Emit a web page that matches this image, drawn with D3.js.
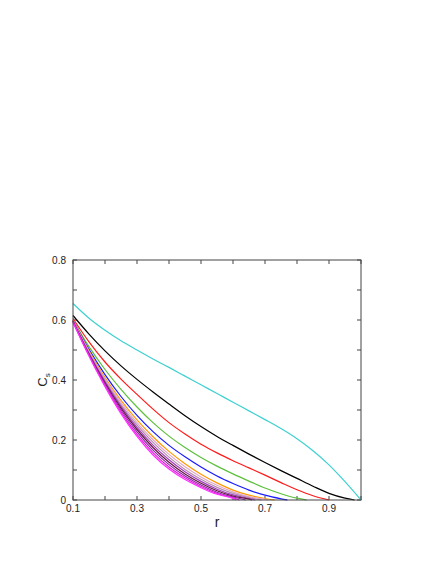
<!DOCTYPE html>
<html>
<head>
<meta charset="utf-8">
<script src="https://cdn.jsdelivr.net/npm/d3@7"></script>
<style>
  body { margin: 0; background: #fff; }
  svg { display: block; font-family: "Liberation Sans", Arial, sans-serif; }
</style>
</head>
<body>
<div id="chart"></div>
<script>
// radial grid shared by all curves
const rGrid = [0.1, 0.15, 0.2, 0.25, 0.3, 0.35, 0.4, 0.45, 0.5, 0.55, 0.6, 0.65, 0.7, 0.75, 0.8, 0.85, 0.9, 0.95];

// C_s values on rGrid (null = already at zero), plus where each curve hits zero
const cyanVals    = [0.655, 0.606, 0.566, 0.531, 0.5, 0.47, 0.442, 0.413, 0.384, 0.355, 0.326, 0.297, 0.268, 0.238, 0.204, 0.164, 0.117, 0.061];
const blackVals   = [0.615, 0.553, 0.497, 0.447, 0.402, 0.36, 0.32, 0.281, 0.245, 0.212, 0.182, 0.153, 0.125, 0.098, 0.072, 0.046, 0.022, 0.006];
const redVals     = [0.605, 0.527, 0.46, 0.403, 0.352, 0.303, 0.258, 0.22, 0.186, 0.157, 0.131, 0.107, 0.083, 0.058, 0.034, 0.014, null, null];
const greenVals   = [0.6, 0.511, 0.435, 0.369, 0.31, 0.258, 0.213, 0.175, 0.142, 0.113, 0.087, 0.063, 0.04, 0.021, 0.006, null, null, null];
const blueVals    = [0.6, 0.502, 0.418, 0.345, 0.282, 0.228, 0.182, 0.144, 0.11, 0.08, 0.055, 0.033, 0.016, 0.004, null, null, null, null];
const orangeVals  = [0.6, 0.497, 0.408, 0.332, 0.267, 0.211, 0.162, 0.121, 0.086, 0.057, 0.033, 0.016, 0.005, null, null, null, null, null];
const plumVals    = [0.599, 0.494, 0.403, 0.325, 0.258, 0.201, 0.152, 0.111, 0.077, 0.049, 0.027, 0.011, 0.002, null, null, null, null, null];
const mauveVals   = [0.598, 0.491, 0.398, 0.318, 0.25, 0.192, 0.143, 0.102, 0.069, 0.042, 0.022, 0.008, null, null, null, null, null, null];
const purpleVals  = [0.597, 0.488, 0.394, 0.312, 0.242, 0.183, 0.134, 0.094, 0.062, 0.036, 0.017, 0.005, null, null, null, null, null, null];
const maroonVals  = [0.596, 0.486, 0.39, 0.306, 0.235, 0.175, 0.126, 0.087, 0.056, 0.031, 0.013, 0.003, null, null, null, null, null, null];
const violetVals  = [0.595, 0.484, 0.386, 0.3, 0.227, 0.166, 0.118, 0.08, 0.05, 0.026, 0.01, null, null, null, null, null, null, null];
const magentaVals = [0.594, 0.482, 0.382, 0.294, 0.219, 0.158, 0.11, 0.074, 0.045, 0.022, 0.007, null, null, null, null, null, null, null];
const pinkVals    = [0.592, 0.48, 0.378, 0.288, 0.212, 0.15, 0.103, 0.068, 0.041, 0.019, 0.005, null, null, null, null, null, null, null];

const seriesVals   = [cyanVals, blackVals, redVals, greenVals, blueVals, orangeVals, plumVals, mauveVals, purpleVals, maroonVals, violetVals, magentaVals, pinkVals];
const seriesEnds   = [1.0, 0.98, 0.9, 0.83, 0.77, 0.73, 0.71, 0.69, 0.67, 0.66, 0.64, 0.62, 0.61];
const seriesColors = ["#3fd0d0", "#000000", "#ff1a1a", "#5cc03c", "#1a1aff", "#ff9a00", "#e4a6c8", "#b890b0", "#a040c0", "#6a1840", "#8a2ca8", "#e020d8", "#ff30ff"];

const xTicks = [0.1, 0.3, 0.5, 0.7, 0.9];
const xMinor = [0.2, 0.4, 0.6, 0.8, 1.0];
const yTicks = [0, 0.2, 0.4, 0.6, 0.8];
const yMinor = [0.1, 0.3, 0.5, 0.7];

const width = 436, height = 564;
const margin = { top: 260, right: 75, bottom: 64, left: 73 };

const svg = d3.select("#chart").append("svg")
  .attr("width", width)
  .attr("height", height);

const x = d3.scaleLinear().domain([0.1, 1.0]).range([margin.left, width - margin.right]);
const y = d3.scaleLinear().domain([0, 0.8]).range([height - margin.bottom, margin.top]);

const axisColor = "#444";

// inward ticks on all four sides, gnuplot style
const tickLen = 4;
const g = svg.append("g");
[...xTicks, ...xMinor].forEach(v => {
  g.append("line").attr("x1", x(v)).attr("x2", x(v))
    .attr("y1", y(0)).attr("y2", y(0) - tickLen).attr("stroke", axisColor);
  g.append("line").attr("x1", x(v)).attr("x2", x(v))
    .attr("y1", y(0.8)).attr("y2", y(0.8) + tickLen).attr("stroke", axisColor);
});
[...yTicks, ...yMinor].forEach(v => {
  g.append("line").attr("x1", x(0.1)).attr("x2", x(0.1) + tickLen)
    .attr("y1", y(v)).attr("y2", y(v)).attr("stroke", axisColor);
  g.append("line").attr("x1", x(1.0)).attr("x2", x(1.0) - tickLen)
    .attr("y1", y(v)).attr("y2", y(v)).attr("stroke", axisColor);
});

// curves
const line = d3.line()
  .x(d => x(d[0]))
  .y(d => y(d[1]))
  .curve(d3.curveMonotoneX);

seriesVals.forEach((vals, i) => {
  const pts = rGrid.map((r, j) => [r, vals[j]]).filter(d => d[1] !== null);
  pts.push([seriesEnds[i], 0]);
  svg.append("path")
    .datum(pts)
    .attr("fill", "none")
    .attr("stroke", seriesColors[i])
    .attr("stroke-width", 1.2)
    .attr("d", line);
});

// frame
svg.append("rect")
  .attr("x", x(0.1)).attr("y", y(0.8))
  .attr("width", x(1.0) - x(0.1)).attr("height", y(0) - y(0.8))
  .attr("fill", "none").attr("stroke", axisColor).attr("stroke-width", 1);

// tick labels
svg.append("g").selectAll("text").data(xTicks).join("text")
  .attr("x", d => x(d)).attr("y", y(0) + 12)
  .attr("text-anchor", "middle")
  .attr("font-size", 10).attr("fill", "#222")
  .text(d => d3.format(".1f")(d));

svg.append("g").selectAll("text").data(yTicks).join("text")
  .attr("x", x(0.1) - 7).attr("y", d => y(d) + 3.5)
  .attr("text-anchor", "end")
  .attr("font-size", 10).attr("fill", "#222")
  .text(d => d === 0 ? "0" : d3.format(".1f")(d));

// axis titles
svg.append("text")
  .attr("x", (x(0.1) + x(1.0)) / 2).attr("y", y(0) + 27)
  .attr("text-anchor", "middle")
  .attr("font-size", 14).attr("fill", "#222")
  .text("r");

const yl = svg.append("text")
  .attr("transform", `translate(${x(0.1) - 26},${(y(0) + y(0.8)) / 2}) rotate(-90)`)
  .attr("text-anchor", "middle")
  .attr("font-size", 13).attr("fill", "#222");
yl.append("tspan").text("C");
yl.append("tspan").attr("font-size", 8).attr("dy", 3).text("s");
</script>
</body>
</html>
